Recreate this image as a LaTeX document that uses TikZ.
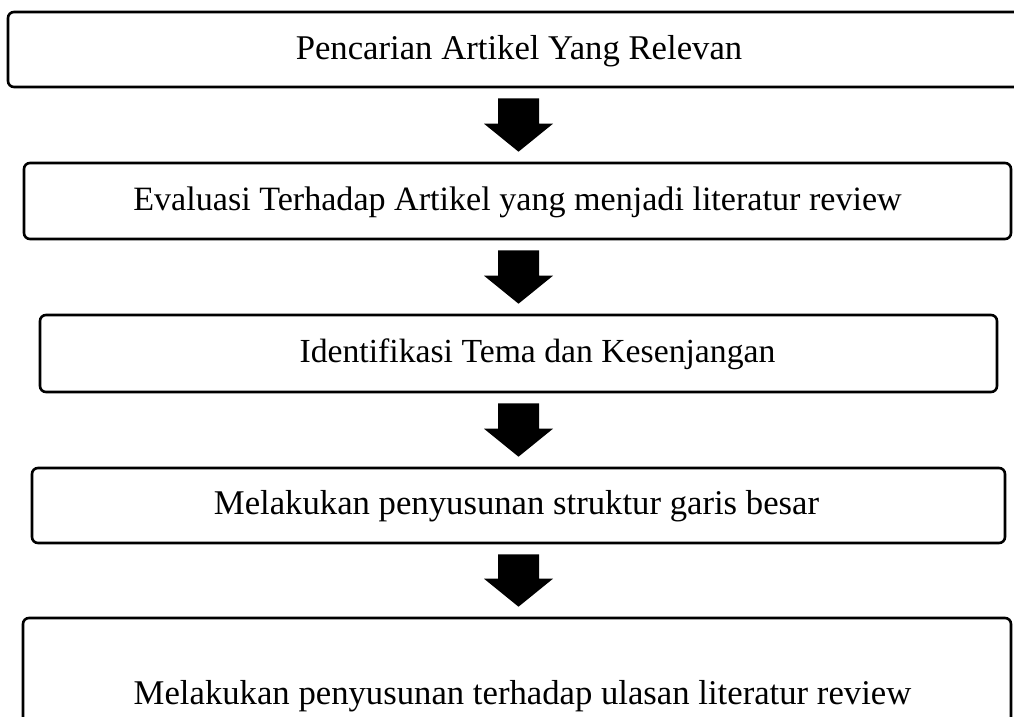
\documentclass[tikz,border=0pt]{standalone}
\usepackage{fontspec}
\setmainfont{Liberation Serif}
\usetikzlibrary{calc}
\tikzset{
    stepbox/.style={draw, line width=2.6pt, rounded corners=6pt, inner sep=0pt},
    steptext/.style={font=\fontsize{34.7}{40}\selectfont},
}
% block arrow from the bottom of one box to the top of the next
\newcommand{\flowarrow}[2]{%
    \fill ($(ax|-#1.south)+(-20.5,-10)$) -- ($(ax|-#1.south)+(20.5,-10)$)
        -- ($(ax|-#2.north)+(20.5,38)$) -- ($(ax|-#2.north)+(34.5,38)$)
        -- ($(ax|-#2.north)+(0,10)$)
        -- ($(ax|-#2.north)+(-34.5,38)$) -- ($(ax|-#2.north)+(-20.5,38)$) -- cycle;}

\begin{document}
\begin{tikzpicture}[x=1pt,y=1pt]
    \useasboundingbox (0,0) rectangle (1014,-717);
    \coordinate (ax) at (518.5,0);

    % boxes
    \node[stepbox, minimum width=1040, minimum height=75] (s1) at (528,-49.5) {};
    \node[stepbox, minimum width=987, minimum height=76] (s2) at (517.5,-201) {};
    \node[stepbox, minimum width=957, minimum height=77] (s3) at (518.5,-353.5) {};
    \node[stepbox, minimum width=973, minimum height=75] (s4) at (518.5,-505.5) {};
    \node[stepbox, minimum width=988, minimum height=154] (s5) at (517,-695) {};

    % texts
    \node[steptext] (t1) at (519,-51) {Pencarian Artikel Yang Relevan};
    \node[steptext, font=\fontsize{34.1}{40}\selectfont] (t2) at (517.5,-202)
        {Evaluasi Terhadap Artikel yang menjadi literatur review};
    \node[steptext, font=\fontsize{33.7}{40}\selectfont] (t3) at (537.5,-354.5)
        {Identifikasi Tema dan Kesenjangan};
    \node[steptext] (t4) at (516.5,-506.5) {Melakukan penyusunan struktur garis besar};
    \node[steptext] (t5) at (522.5,-696) {Melakukan penyusunan terhadap ulasan literatur review};

    % arrows
    \flowarrow{s1}{s2}
    \flowarrow{s2}{s3}
    \flowarrow{s3}{s4}
    \flowarrow{s4}{s5}
\end{tikzpicture}
\end{document}
